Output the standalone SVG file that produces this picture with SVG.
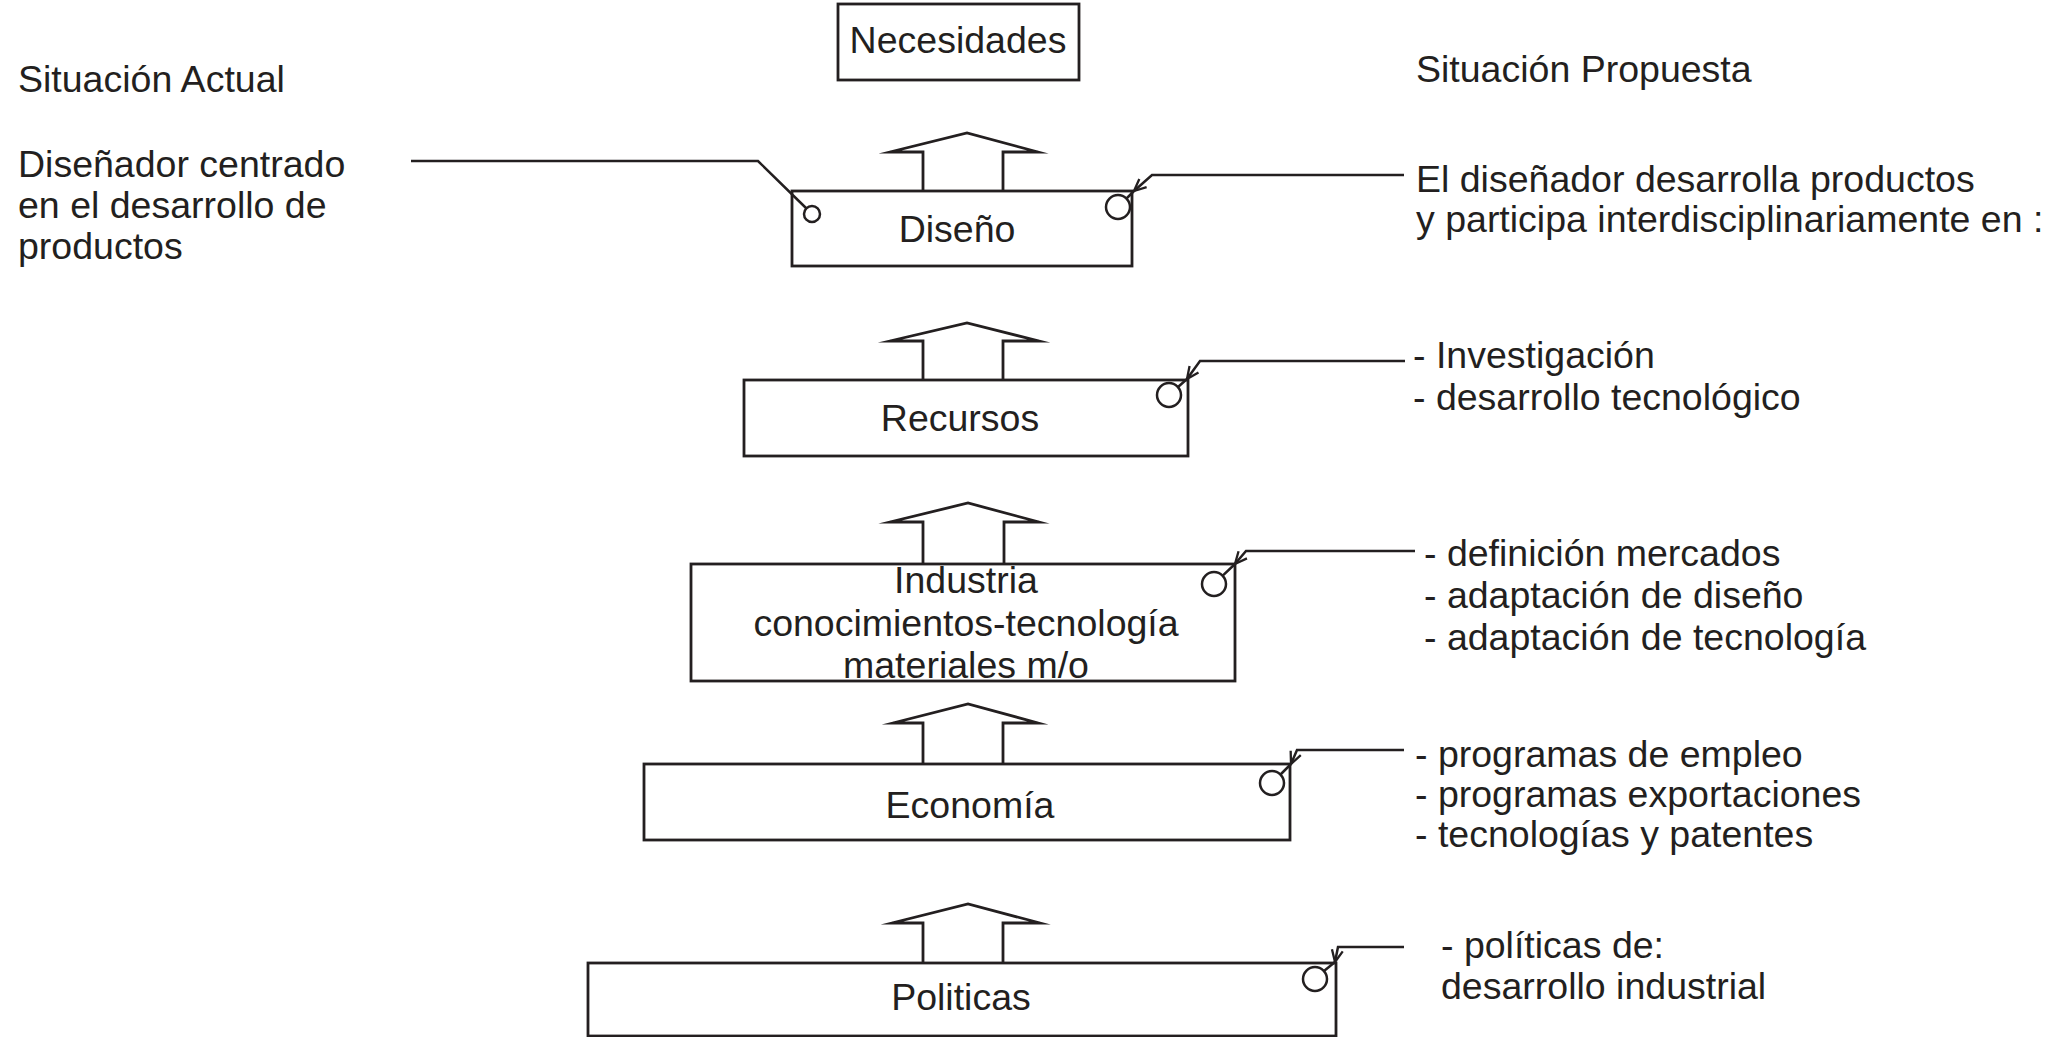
<svg xmlns="http://www.w3.org/2000/svg" width="2059" height="1037" viewBox="0 0 2059 1037">
  <defs>
    <style>
      .box { fill: #ffffff; stroke: #231f20; stroke-width: 2.8; }
      .up { fill: none; stroke: #231f20; stroke-width: 2.8; stroke-linejoin: miter; stroke-miterlimit: 20; }
      .wire { fill: none; stroke: #231f20; stroke-width: 2.5; }
      .dot { fill: #ffffff; stroke: #231f20; stroke-width: 2.5; }
      text { font-family: "Liberation Sans", Arial, Helvetica, sans-serif; font-size: 37.5px; fill: #231f20; }
      .mid { text-anchor: middle; }
    </style>
    <marker id="vhead" markerUnits="userSpaceOnUse" markerWidth="16" markerHeight="16" viewBox="0 0 16 16" refX="14" refY="8" orient="auto">
      <path d="M2,2.5 L14,8 L2,13.5" fill="none" stroke="#231f20" stroke-width="2.3"/>
    </marker>
  </defs>

  <rect width="2059" height="1037" fill="#ffffff"/>

  <!-- column headings -->
  <text x="18" y="92">Situación Actual</text>
  <text x="1416" y="82">Situación Propuesta</text>

  <!-- current-situation note -->
  <text x="18" y="177">Diseñador centrado</text>
  <text x="18" y="218">en el desarrollo de</text>
  <text x="18" y="259">productos</text>

  <!-- proposed-situation notes -->
  <text x="1416" y="192">El diseñador desarrolla productos</text>
  <text x="1416" y="232">y participa interdisciplinariamente en :</text>
  <text x="1413" y="368">- Investigación</text>
  <text x="1413" y="410">- desarrollo tecnológico</text>
  <text x="1424" y="566">- definición mercados</text>
  <text x="1424" y="608">- adaptación de diseño</text>
  <text x="1424" y="650">- adaptación de tecnología</text>
  <text x="1415" y="767">- programas de empleo</text>
  <text x="1415" y="807">- programas exportaciones</text>
  <text x="1415" y="847">- tecnologías y patentes</text>
  <text x="1441" y="958">- políticas de:</text>
  <text x="1441" y="999">desarrollo industrial</text>

  <!-- stack of levels -->
  <g id="necesidades">
    <rect class="box" x="838" y="4" width="241" height="76"/>
    <text class="mid" x="958" y="53">Necesidades</text>
  </g>

  <g id="diseno">
    <rect class="box" x="792" y="191" width="340" height="75"/>
    <text class="mid" x="957" y="242">Diseño</text>
    <circle class="dot" cx="812" cy="214" r="8"/>
    <circle class="dot" cx="1118" cy="207" r="12"/>
  </g>

  <g id="recursos">
    <rect class="box" x="744" y="380" width="444" height="76"/>
    <text class="mid" x="960" y="431">Recursos</text>
    <circle class="dot" cx="1169" cy="395" r="12"/>
  </g>

  <g id="industria">
    <rect class="box" x="691" y="564" width="544" height="117"/>
    <text class="mid" x="966" y="593">Industria</text>
    <text class="mid" x="966" y="636">conocimientos-tecnología</text>
    <text class="mid" x="966" y="678">materiales m/o</text>
    <circle class="dot" cx="1214" cy="584" r="12"/>
  </g>

  <g id="economia">
    <rect class="box" x="644" y="764" width="646" height="76"/>
    <text class="mid" x="970" y="818">Economía</text>
    <circle class="dot" cx="1272" cy="783" r="12"/>
  </g>

  <g id="politicas">
    <rect class="box" x="588" y="963" width="748" height="73"/>
    <text class="mid" x="961" y="1010">Politicas</text>
    <circle class="dot" cx="1315" cy="979" r="12"/>
  </g>

  <!-- connectors: block arrows between levels and note leaders -->
  <g id="connectors">
    <path class="up" d="M923,191 V152 H890 L967,133 L1038,152 H1003 V191"/>
    <path class="up" d="M923,380 V341 H890 L967,323 L1039,341 H1003 V380"/>
    <path class="up" d="M923,564 V522 H890 L968,503 L1039,522 H1004 V564"/>
    <path class="up" d="M923,764 V723 H893 L968,704 L1038,723 H1003 V764"/>
    <path class="up" d="M923,963 V923 H892 L968,904 L1040,923 H1003 V963"/>

    <path class="wire" d="M411,161 H758 L806,208"/>

    <path class="wire" d="M1404,175 H1152 L1134,191" marker-end="url(#vhead)"/>
    <line class="wire" x1="1134" y1="191" x2="1126.5" y2="198.5"/>

    <path class="wire" d="M1405,361 H1200 L1187,379" marker-end="url(#vhead)"/>
    <line class="wire" x1="1187" y1="379" x2="1178" y2="387"/>

    <path class="wire" d="M1415,551 H1246 L1235,564" marker-end="url(#vhead)"/>
    <line class="wire" x1="1235" y1="564" x2="1222.7" y2="575.7"/>

    <path class="wire" d="M1404,750 H1297 L1291,764" marker-end="url(#vhead)"/>
    <line class="wire" x1="1291" y1="764" x2="1280.5" y2="774.5"/>

    <path class="wire" d="M1404,947 H1338 L1335,962" marker-end="url(#vhead)"/>
    <line class="wire" x1="1335" y1="962" x2="1324" y2="971"/>
  </g>
</svg>
